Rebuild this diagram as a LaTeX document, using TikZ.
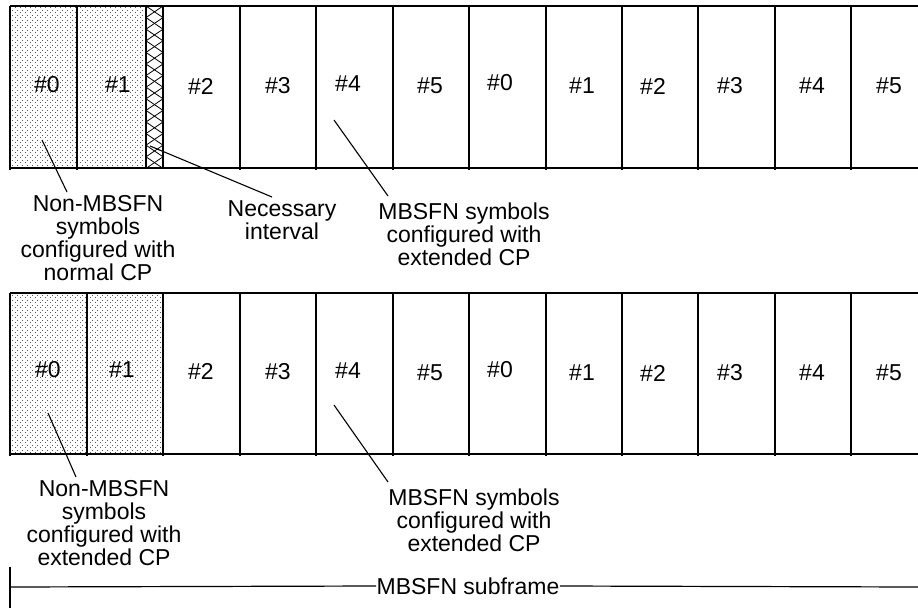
\documentclass[tikz,border=0pt]{standalone}
\usepackage{fontspec}
\setmainfont{Liberation Sans}
\usetikzlibrary{patterns.meta}
\tikzdeclarepattern{
  name=stipple,
  type=uncolored,
  bounding box={(0pt,0pt) and (5pt,5pt)},
  tile size={(5pt,5pt)},
  code={\fill (0pt,0pt) rectangle (0.9pt,0.9pt); \fill (2.5pt,2.5pt) rectangle (3.4pt,3.4pt);}
}
\begin{document}
\begin{tikzpicture}[x=1pt,y=-1pt,line width=1.2pt,
  lbl/.style={font=\fontsize{23}{23}\selectfont, inner sep=0pt},
  note/.style={font=\fontsize{23}{23}\selectfont, align=center, inner sep=0pt, anchor=north},
  leader/.style={line width=1.1pt},
  dotfill/.style={pattern=stipple, pattern color=black!65},
  thickbox/.style={line width=2pt}]
\useasboundingbox (0,0) rectangle (918,608);

% ---------- top row ----------
\fill[dotfill] (10,6) rectangle (146,168);
\begin{scope}
  \clip (146,6) rectangle (163,168);
  \foreach \k in {0,...,14} {
    \draw[line width=0.8pt] (146,6+\k*11.6) -- (163,17.6+\k*11.6);
    \draw[line width=0.8pt] (146,17.6+\k*11.6) -- (163,6+\k*11.6);
  }
\end{scope}
\draw (10,6) -- (918,6);
\draw (10,168) -- (918,168);
\foreach \x in {10,77,240,316,393,469,546,622,698,775,851}
  \draw (\x,6) -- (\x,170);
\draw[thickbox] (146,6) rectangle (163,168);

\node[lbl] (a0) at (47,85) {\#0};
\node[lbl] (a1) at (118,85) {\#1};
\node[lbl] (a2) at (201,86) {\#2};
\node[lbl] (a3) at (278,86) {\#3};
\node[lbl] (a4) at (348,84) {\#4};
\node[lbl] (a5) at (430,86) {\#5};
\node[lbl] (a6) at (500,83) {\#0};
\node[lbl] (a7) at (582,86) {\#1};
\node[lbl] (a8) at (653,86) {\#2};
\node[lbl] (a9) at (730,86) {\#3};
\node[lbl] (a10) at (812,86) {\#4};
\node[lbl] (a11) at (889,86) {\#5};

\node[note] (n1) at (98,195) {Non-MBSFN\\symbols\\configured with\\normal CP};
\node[note] (n2) at (282,200) {Necessary\\interval};
\node[note] (n3) at (464,202) {MBSFN symbols\\configured with\\extended CP};

\coordinate (p1) at (42,140);  \coordinate (q1) at (67,192);
\coordinate (p2) at (150,146); \coordinate (q2) at (272,197);
\coordinate (p3) at (334,120); \coordinate (q3) at (388,196);
\draw[leader] (p1) -- (q1);
\draw[leader] (p2) -- (q2);
\draw[leader] (p3) -- (q3);

% ---------- bottom row ----------
\fill[dotfill] (10,293) rectangle (163,454);
\draw (10,293) -- (918,293);
\draw (10,454) -- (918,454);
\foreach \x in {10,87,163,240,316,393,469,546,622,698,775,851}
  \draw (\x,293) -- (\x,456);

\node[lbl] (b0) at (48,370) {\#0};
\node[lbl] (b1) at (122,370) {\#1};
\node[lbl] (b2) at (201,371) {\#2};
\node[lbl] (b3) at (278,372) {\#3};
\node[lbl] (b4) at (348,371) {\#4};
\node[lbl] (b5) at (430,373) {\#5};
\node[lbl] (b6) at (500,370) {\#0};
\node[lbl] (b7) at (582,373) {\#1};
\node[lbl] (b8) at (653,373) {\#2};
\node[lbl] (b9) at (730,373) {\#3};
\node[lbl] (b10) at (812,373) {\#4};
\node[lbl] (b11) at (889,373) {\#5};

\node[note] (m1) at (104,480) {Non-MBSFN\\symbols\\configured with\\extended CP};
\node[note] (m3) at (474,488) {MBSFN symbols\\configured with\\extended CP};

\coordinate (r1) at (48,413);  \coordinate (s1) at (76,477);
\coordinate (r3) at (334,405); \coordinate (s3) at (388,482);
\draw[leader] (r1) -- (s1);
\draw[leader] (r3) -- (s3);

% ---------- MBSFN subframe ----------
\coordinate (t0) at (10,567);
\coordinate (t1) at (10,608);
\coordinate (h0) at (10,587);
\coordinate (h1) at (918,587);
\node[lbl] (sf) at (468,586) {MBSFN subframe};
\draw (t0) -- (t1);
\draw (h0) -- (sf.west);
\draw (sf.east) -- (h1);
\end{tikzpicture}
\end{document}
